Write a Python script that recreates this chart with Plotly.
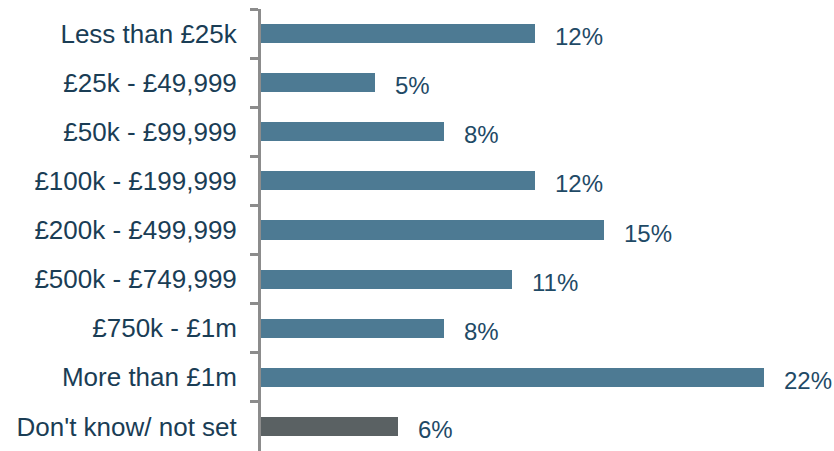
import plotly.graph_objects as go

# Budget bands and share of respondents (%)
categories = [
    "Less than £25k",
    "£25k - £49,999",
    "£50k - £99,999",
    "£100k - £199,999",
    "£200k - £499,999",
    "£500k - £749,999",
    "£750k - £1m",
    "More than £1m",
    "Don't know/ not set",
]
shares = [12, 5, 8, 12, 15, 11, 8, 22, 6]
bar_colors = ["#4d7a93"] * 8 + ["#5a6163"]

fig = go.Figure()
fig.add_trace(go.Bar(
    y=categories,
    x=shares,
    orientation="h",
    marker=dict(color=bar_colors, line=dict(width=0)),
    width=0.39,
    hoverinfo="skip",
))

for cat, val in zip(categories, shares):
    fig.add_annotation(
        x=val, y=cat, text=f"{val}%", showarrow=False,
        xanchor="left", yanchor="middle", xshift=18, yshift=-3,
        font=dict(family="Liberation Sans, Arial, sans-serif", size=24, color="#1f4a66"),
    )

fig.update_layout(
    width=834, height=451,
    margin=dict(l=261, r=13, t=9, b=0),
    paper_bgcolor="white", plot_bgcolor="white",
    showlegend=False,
    bargap=0,
    xaxis=dict(range=[0, 24.5], visible=False, fixedrange=True),
    yaxis=dict(
        autorange="reversed",
        showline=True, linecolor="#8c8c8c", linewidth=3,
        ticks="outside", tickson="boundaries", ticklen=8, tickwidth=3, tickcolor="#8c8c8c",
        ticklabelstandoff=16,
        tickfont=dict(family="Liberation Sans, Arial, sans-serif", size=26, color="#1a3d55"),
        showgrid=False, zeroline=False, fixedrange=True,
    ),
)

fig.write_html("out.html")
